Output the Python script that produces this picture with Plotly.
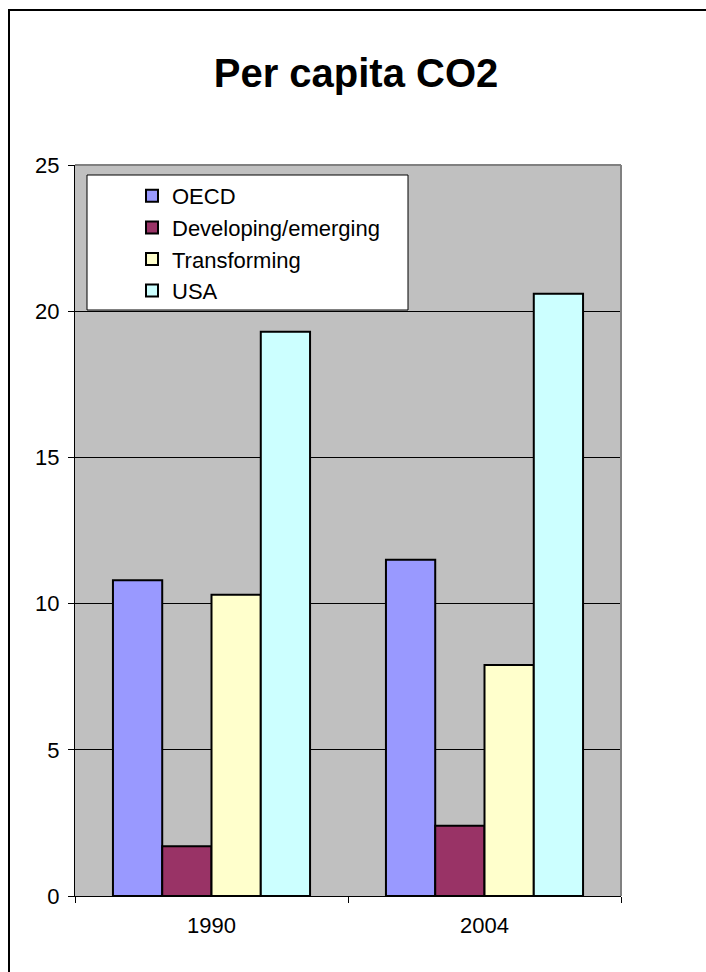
import plotly.graph_objects as go

# Per capita CO2 emissions (tonnes) by country group
years = ["1990", "2004"]
groups = ["OECD", "Developing/emerging", "Transforming", "USA"]
oecd = [10.8, 11.5]
developing = [1.7, 2.4]
transforming = [10.3, 7.9]
usa = [19.3, 20.6]
series = [oecd, developing, transforming, usa]
colors = ["#9999FF", "#993366", "#FFFFCC", "#CCFFFF"]
y_ticks = [0, 5, 10, 15, 20, 25]

FONT = "Liberation Sans, Arial, sans-serif"

fig = go.Figure()
for name, vals, col in zip(groups, series, colors):
    fig.add_trace(go.Bar(
        name=name, x=years, y=vals,
        marker=dict(color=col, line=dict(color="black", width=2)),
    ))

W, H = 706, 972
L, R, T, B = 75, 85, 165, 76
pw, ph = W - L - R, H - T - B

def px_x(x):
    return (x - L) / pw

def px_y(y):
    return (H - B - y) / ph

shapes = [
    # outer frame: left and top edges (the rest runs off the page)
    dict(type="line", xref="paper", yref="paper",
         x0=px_x(9), x1=px_x(9), y0=px_y(H + 20), y1=px_y(10),
         line=dict(color="black", width=2), layer="above"),
    dict(type="line", xref="paper", yref="paper",
         x0=px_x(8), x1=px_x(W + 20), y0=px_y(10), y1=px_y(10),
         line=dict(color="black", width=2), layer="above"),
    # plot area top and right edges
    dict(type="line", xref="paper", yref="paper", x0=0, x1=1, y0=1, y1=1,
         line=dict(color="#808080", width=2), layer="above"),
    dict(type="line", xref="paper", yref="paper", x0=1, x1=1, y0=0, y1=1,
         line=dict(color="#808080", width=2), layer="above"),
    # legend box
    dict(type="rect", xref="paper", yref="paper",
         x0=px_x(87), x1=px_x(408), y0=px_y(310), y1=px_y(175),
         line=dict(color="black", width=1), fillcolor="white", layer="above"),
]

fig.update_layout(
    width=W, height=H,
    margin=dict(l=L, r=R, t=T, b=B, pad=0),
    paper_bgcolor="white",
    plot_bgcolor="#C0C0C0",
    barmode="group",
    bargap=0.278,
    bargroupgap=0,
    font=dict(family=FONT, color="black"),
    title=dict(text="<b>Per capita CO2</b>", x=356 / W, xref="container",
               xanchor="center", y=1 - 73 / H, yanchor="middle", yref="container",
               font=dict(family=FONT, size=40, color="black")),
    showlegend=True,
    legend=dict(x=px_x(132), y=px_y(175), xanchor="left", yanchor="top",
                bgcolor="rgba(0,0,0,0)", borderwidth=0,
                font=dict(family=FONT, size=22, color="black"),
                itemclick=False, itemdoubleclick=False),
    shapes=shapes,
)

fig.update_xaxes(
    type="category", showgrid=False, showline=True, linecolor="black", linewidth=1,
    ticks="outside", tickson="boundaries", ticklen=6, tickcolor="black",
    ticklabelstandoff=10,
    tickfont=dict(family=FONT, size=22, color="black"), zeroline=False,
)
fig.update_yaxes(
    range=[0, 25], tickvals=y_ticks, showgrid=True, gridcolor="black", gridwidth=1,
    showline=True, linecolor="black", linewidth=1, ticks="outside", ticklen=6,
    ticklabelstandoff=4,
    tickcolor="black", tickfont=dict(family=FONT, size=22, color="black"),
    zeroline=False, fixedrange=True,
)

fig.write_html("out.html")
